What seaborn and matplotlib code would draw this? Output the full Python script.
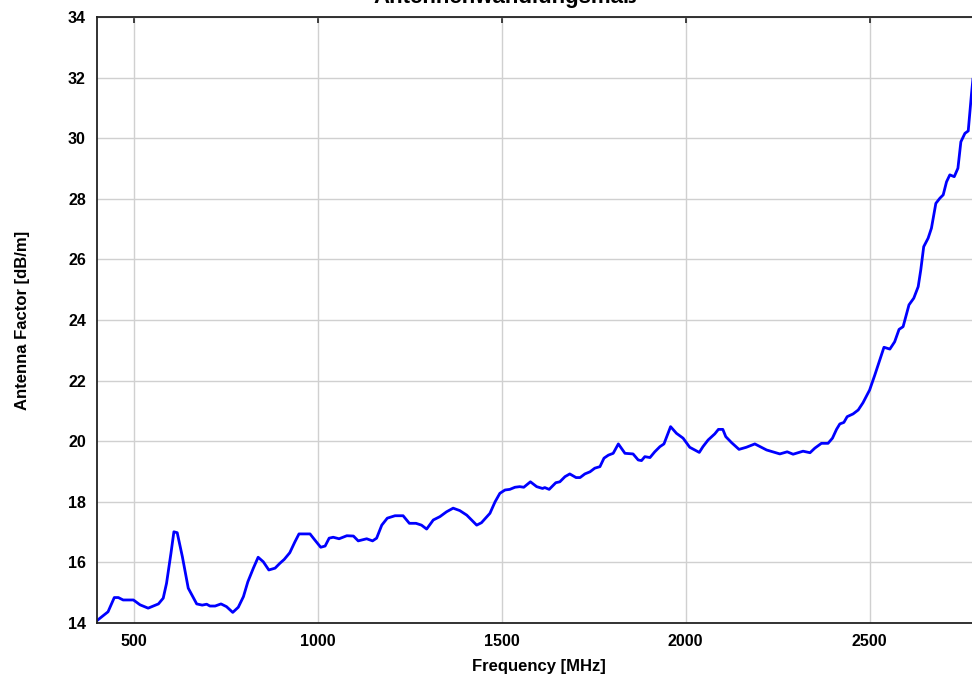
import pandas as pd
import seaborn as sns
import matplotlib.pyplot as plt

# antenna factor curve
freq_mhz = [400, 430, 447, 458, 471, 499, 517, 539, 567, 580, 589, 601, 609, 618,
            632, 648, 671, 686, 698, 707, 721, 737, 752, 769, 784, 798, 810, 825,
            838, 852, 867, 884, 897, 909, 924, 938, 949, 961, 979, 992, 1008, 1020,
            1031, 1042, 1058, 1079, 1097, 1110, 1133, 1149, 1160, 1174, 1189, 1210,
            1232, 1249, 1267, 1282, 1296, 1314, 1332, 1350, 1368, 1386, 1405, 1418,
            1432, 1445, 1468, 1482, 1495, 1509, 1522, 1536, 1549, 1560, 1578, 1595,
            1611, 1617, 1629, 1647, 1658, 1672, 1685, 1702, 1713, 1726, 1740, 1753,
            1767, 1778, 1790, 1803, 1817, 1835, 1857, 1871, 1880, 1889, 1903, 1916,
            1930, 1941, 1959, 1975, 1993, 2011, 2025, 2037, 2047, 2061, 2079, 2089,
            2101, 2109, 2125, 2145, 2165, 2188, 2220, 2256, 2276, 2292, 2319, 2338,
            2351, 2369, 2387, 2399, 2410, 2419, 2430, 2439, 2455, 2469, 2482, 2500,
            2514, 2526, 2539, 2555, 2568, 2580, 2591, 2607, 2620, 2632, 2639, 2647,
            2659, 2668, 2680, 2691, 2700, 2709, 2718, 2730, 2740, 2748, 2759, 2768,
            2777, 2782]
af_db = [14.08, 14.37, 14.84, 14.84, 14.76, 14.76, 14.60, 14.49, 14.63, 14.82, 15.31,
         16.30, 17.01, 16.98, 16.19, 15.15, 14.63, 14.59, 14.62, 14.56, 14.56, 14.63,
         14.54, 14.35, 14.52, 14.87, 15.36, 15.81, 16.17, 16.02, 15.75, 15.81, 15.97,
         16.10, 16.32, 16.68, 16.94, 16.94, 16.94, 16.74, 16.50, 16.54, 16.80, 16.83,
         16.78, 16.88, 16.87, 16.71, 16.78, 16.71, 16.80, 17.23, 17.46, 17.54, 17.54,
         17.29, 17.29, 17.23, 17.10, 17.40, 17.51, 17.67, 17.79, 17.71, 17.56, 17.40,
         17.23, 17.31, 17.62, 18.00, 18.28, 18.39, 18.41, 18.48, 18.50, 18.48, 18.66,
         18.50, 18.44, 18.47, 18.41, 18.63, 18.66, 18.83, 18.92, 18.80, 18.80, 18.92,
         18.99, 19.11, 19.16, 19.44, 19.54, 19.60, 19.91, 19.60, 19.58, 19.38, 19.36,
         19.49, 19.46, 19.65, 19.82, 19.91, 20.48, 20.26, 20.10, 19.80, 19.71, 19.63,
         19.82, 20.04, 20.24, 20.39, 20.39, 20.15, 19.95, 19.73, 19.80, 19.91, 19.71,
         19.58, 19.65, 19.57, 19.67, 19.62, 19.77, 19.93, 19.93, 20.10, 20.39, 20.57,
         20.62, 20.81, 20.90, 21.03, 21.27, 21.69, 22.18, 22.62, 23.10, 23.04, 23.28,
         23.69, 23.78, 24.50, 24.72, 25.10, 25.65, 26.42, 26.70, 27.03, 27.85, 28.02,
         28.13, 28.56, 28.79, 28.73, 29.01, 29.88, 30.16, 30.24, 31.48, 32.1]

x_ticks = [500, 1000, 1500, 2000, 2500]
y_ticks = [14, 16, 18, 20, 22, 24, 26, 28, 30, 32, 34]

df = pd.DataFrame({'Frequency': freq_mhz, 'AF': af_db})

sns.set_style('white')
plt.rcParams['font.family'] = ['Liberation Sans', 'DejaVu Sans']
plt.rcParams['font.weight'] = 'bold'
plt.rcParams['text.color'] = 'black'
plt.rcParams['axes.labelcolor'] = 'black'
plt.rcParams['xtick.color'] = 'black'
plt.rcParams['ytick.color'] = 'black'

fig = plt.figure(figsize=(9.72, 6.78), dpi=100)
ax = fig.add_axes([97 / 972, 55 / 678, 883 / 972, 606 / 678])

sns.lineplot(data=df, x='Frequency', y='AF', color='#0000ff', linewidth=2.0, ax=ax)

ax.set_xlim(400, 2800)
ax.set_ylim(14, 34)
ax.set_xticks(x_ticks)
ax.set_yticks(y_ticks)
ax.grid(True, color='#d0d0d0', linewidth=1.0)
ax.set_axisbelow(True)
ax.tick_params(direction='in', length=4, width=1.2, color='#222222',
               labelsize=11.5, top=True, right=True, pad=8)
for lab in ax.get_xticklabels() + ax.get_yticklabels():
    lab.set_fontweight('bold')
for side in ['left', 'bottom', 'top', 'right']:
    ax.spines[side].set_color('#222222')
    ax.spines[side].set_linewidth(1.3)

ax.set_xlabel('Frequency [MHz]', fontsize=12, fontweight='bold', labelpad=7)
ax.set_ylabel('Antenna Factor [dB/m]', fontsize=12, fontweight='bold', labelpad=27)

fig.text(505 / 972, 1 - 3 / 678, 'Antennenwandlungsmaß', ha='center', va='baseline',
         fontsize=16, fontweight='bold')

fig.savefig('out.png', dpi=100)
